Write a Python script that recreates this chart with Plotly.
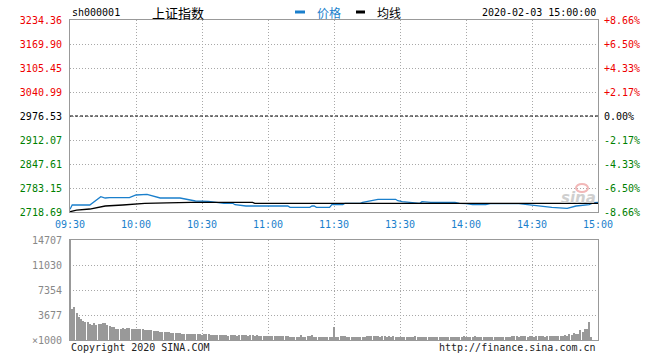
import plotly.graph_objects as go

# ---------------- data ----------------
time_ticks = [0, 30, 60, 90, 120, 150, 180, 210, 240]
time_labels = ["09:30", "10:00", "10:30", "11:00", "11:30", "13:30", "14:00", "14:30", "15:00"]

price_ticks = [2718.69, 2783.15, 2847.61, 2912.07, 2976.53, 3040.99, 3105.45, 3169.90, 3234.36]
price_labels = ["2718.69", "2783.15", "2847.61", "2912.07", "2976.53", "3040.99", "3105.45", "3169.90", "3234.36"]
pct_labels = ["-8.66%", "-6.50%", "-4.33%", "-2.17%", "0.00%", "+2.17%", "+4.33%", "+6.50%", "+8.66%"]
prev_close = 2976.53

vol_ticks = [0, 3677, 7354, 11030, 14707]
vol_labels = ["×1000", "3677", "7354", "11030", "14707"]

# price (minute index since 09:30, trading minutes)
price_min = [0, 1, 9, 14, 16, 18, 27, 30, 35, 41, 50, 54, 57, 63, 70, 74, 75, 80, 99, 100,
             109, 110, 111, 112, 118, 119, 124, 125, 132, 133, 136, 140, 148, 149, 151, 156,
             159, 160, 164, 175, 177, 180, 183, 189, 191, 204, 208, 212, 219, 226, 230, 236,
             238, 240]
price_val = [2725.9, 2737.5, 2737.5, 2759.8, 2756.3, 2757.1, 2757.1, 2764.4, 2766.2, 2756.3,
             2756.3, 2750.9, 2748.2, 2747.4, 2742.1, 2742.1, 2738.3, 2734.8, 2734.8, 2731.3,
             2731.3, 2734.8, 2734.8, 2731.3, 2731.3, 2738.3, 2738.3, 2742.1, 2742.1, 2744.7,
             2749.0, 2752.8, 2752.8, 2749.0, 2746.4, 2743.7, 2742.1, 2746.4, 2744.7, 2744.7,
             2742.1, 2741.0, 2738.3, 2738.3, 2741.0, 2741.0, 2738.3, 2735.6, 2731.3, 2728.6,
             2734.8, 2738.3, 2743.7, 2744.5]

avg_min = [0, 3, 9, 13, 16, 24, 34, 44, 55, 83, 84, 240]
avg_val = [2719.5, 2723.5, 2726.7, 2731.0, 2734.8, 2737.5, 2742.1, 2743.4, 2744.5, 2744.7, 2742.1, 2742.1]

volume = [
    14707, 4557, 4900, 4018, 3430, 3038, 2793, 2646, 2646, 2352,
    2205, 2450, 2254, 2352, 2352, 2499, 2499, 2205, 2058, 1960,
    1911, 1617, 1617, 1666, 1764, 1666, 1764, 1764, 1666, 1666,
    1568, 1666, 1617, 1568, 1470, 1470, 1470, 1470, 1372, 1323,
    1323, 1176, 1176, 1176, 1176, 1176, 1029, 1029, 1029, 980,
    980, 931, 931, 931, 931, 931, 931, 882, 882, 882,
    784, 882, 833, 882, 784, 784, 686, 686, 686, 686,
    784, 686, 637, 735, 686, 784, 637, 686, 686, 686,
    686, 637, 686, 686, 637, 686, 588, 588, 588, 588,
    588, 588, 588, 588, 637, 588, 588, 588, 588, 637,
    490, 490, 490, 490, 490, 735, 490, 490, 588, 588,
    686, 490, 490, 490, 490, 392, 490, 490, 490, 490,
    1960, 441, 441, 539, 588, 539, 441, 490, 490, 490,
    490, 490, 441, 490, 490, 539, 588, 588, 588, 588,
    539, 392, 588, 539, 490, 539, 392, 588, 490, 490,
    490, 441, 490, 490, 490, 441, 490, 539, 441, 490,
    441, 441, 490, 490, 392, 490, 490, 490, 490, 441,
    490, 490, 490, 490, 392, 392, 441, 490, 441, 539,
    490, 441, 490, 441, 539, 490, 490, 441, 490, 441,
    441, 490, 490, 490, 441, 441, 490, 490, 392, 490,
    441, 539, 539, 539, 490, 539, 637, 588, 490, 588,
    539, 490, 588, 539, 637, 588, 490, 637, 637, 588,
    539, 637, 588, 539, 588, 735, 637, 882, 735, 1029,
    838, 838, 1470, 1220, 1573, 1617, 2690, 397, 0, 0,
    0,
]
vol_min = list(range(len(volume)))

# ---------------- styles ----------------
W, H = 660, 360
L, R, T, B = 70, 598, 20, 340
MONO = "DejaVu Sans Mono"
CJK = "Noto Sans CJK SC"
BLUE = "#1a7fcc"
GRID = "#a8a8a8"
FRAME = "#999999"
RED, GREEN = "#ee0000", "#008000"


def px(x):
    return (x - L) / (R - L)


def py(y):
    return (B - y) / (B - T)


def col(v):
    if abs(v - prev_close) < 0.01:
        return "#000000"
    return RED if v > prev_close else GREEN


left_text = [f'<span style="color:{col(v)}">{t}</span>' for v, t in zip(price_ticks, price_labels)]
right_text = [f'<span style="color:{col(v)}">{t}</span>' for v, t in zip(price_ticks, pct_labels)]

fig = go.Figure()
fig.add_trace(go.Scatter(x=price_min, y=price_val, mode="lines",
                         line=dict(color=BLUE, width=1.3), xaxis="x", yaxis="y",
                         showlegend=False, hoverinfo="skip"))
fig.add_trace(go.Scatter(x=avg_min, y=avg_val, mode="lines",
                         line=dict(color="#000000", width=1.3), xaxis="x", yaxis="y",
                         showlegend=False, hoverinfo="skip"))
# invisible trace so the right-hand percentage axis is drawn
fig.add_trace(go.Scatter(x=[price_min[0]], y=[price_val[0]], mode="markers", opacity=0,
                         xaxis="x", yaxis="y3", showlegend=False, hoverinfo="skip"))
fig.add_trace(go.Bar(x=vol_min, y=volume, width=0.45, marker=dict(color="#999999", line_width=0),
                     xaxis="x2", yaxis="y2", showlegend=False, hoverinfo="skip"))

axis_common = dict(showgrid=True, gridcolor=GRID, griddash="1px,2px", gridwidth=1,
                   showline=True, linecolor=FRAME, linewidth=1, mirror=True,
                   zeroline=False, ticks="", fixedrange=True, automargin=False)

fig.update_layout(
    width=W, height=H,
    margin=dict(l=L, r=W - R, t=T, b=H - B, autoexpand=False),
    paper_bgcolor="white", plot_bgcolor="white",
    bargap=0,
    xaxis=dict(domain=[0, 1], anchor="y", range=[0, 240], tickmode="array",
               tickvals=time_ticks, ticktext=time_labels,
               tickfont=dict(family=MONO, size=10, color=BLUE), ticklabelstandoff=3,
               **axis_common),
    yaxis=dict(domain=[py(212), 1], anchor="x", range=[price_ticks[0], price_ticks[-1]],
               tickmode="array", tickvals=price_ticks, ticktext=left_text,
               tickfont=dict(family=MONO, size=10), ticklabelstandoff=5,
               **axis_common),
    yaxis3=dict(overlaying="y", side="right", anchor="x", range=[price_ticks[0], price_ticks[-1]],
                tickmode="array", tickvals=price_ticks, ticktext=right_text,
                tickfont=dict(family=MONO, size=10), ticklabelstandoff=5,
                showgrid=False, showline=False, zeroline=False, ticks="", fixedrange=True,
                automargin=False),
    xaxis2=dict(domain=[0, 1], anchor="y2", range=[0, 240], tickmode="array",
                tickvals=time_ticks, showticklabels=False, **axis_common),
    yaxis2=dict(domain=[0, py(240)], anchor="x2", range=[0, 14707], tickmode="array",
                tickvals=vol_ticks, ticktext=vol_labels,
                tickfont=dict(family=MONO, size=10, color="#888888"), ticklabelstandoff=5,
                **axis_common),
)

# previous close dashed line
fig.add_shape(type="line", xref="x", yref="y", x0=0, x1=240, y0=prev_close, y1=prev_close,
              line=dict(color="#000000", width=1, dash="3px,2px"))

# header / footer texts
ann = [
    dict(text="sh000001", x=px(70), y=py(13), xanchor="left", font=dict(family=MONO, size=10, color="#000")),
    dict(text="上证指数", x=px(150), y=py(13), xanchor="left", font=dict(family=CJK, size=13, color="#000")),
    dict(text="价格", x=px(315), y=py(13), xanchor="left", font=dict(family=CJK, size=12, color=BLUE)),
    dict(text="均线", x=px(375), y=py(13), xanchor="left", font=dict(family=CJK, size=12, color="#000")),
    dict(text="2020-02-03 15:00:00", x=px(598), y=py(13), xanchor="right", font=dict(family=MONO, size=10, color="#000")),
    dict(text="Copyright 2020 SINA.COM", x=px(69), y=py(347), xanchor="left", font=dict(family=MONO, size=10, color="#222")),
    dict(text="http://finance.sina.com.cn", x=px(598), y=py(347), xanchor="right", font=dict(family=MONO, size=10, color="#222")),
    dict(text="<b><i>sina</i></b>", x=px(578), y=py(198), xanchor="center", font=dict(family="DejaVu Sans", size=15, color="#cfcfcf")),
]
for a in ann:
    fig.add_annotation(xref="paper", yref="paper", yanchor="middle", showarrow=False, **a)

fig.add_shape(type="line", xref="paper", yref="paper", x0=px(295), x1=px(305), y0=py(12), y1=py(12),
              line=dict(color=BLUE, width=3))
fig.add_shape(type="line", xref="paper", yref="paper", x0=px(356), x1=px(365), y0=py(12), y1=py(12),
              line=dict(color="#000000", width=3))
fig.add_shape(type="circle", xref="paper", yref="paper", x0=px(576), x1=px(588), y0=py(192), y1=py(184),
              line=dict(color="#f2b8b8", width=2), fillcolor="rgba(0,0,0,0)")

fig.write_html("out.html",
               config={"displayModeBar": False},
               post_script="document.body.style.margin='0';document.body.style.padding='0';")
